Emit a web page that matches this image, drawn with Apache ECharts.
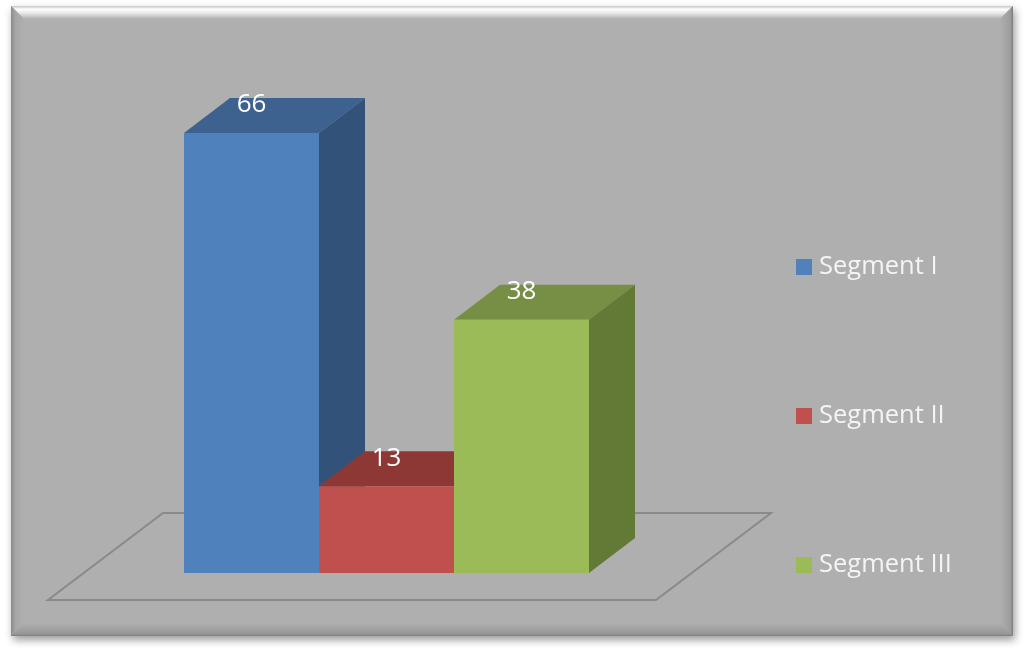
<!DOCTYPE html>
<html><head><meta charset="utf-8">
<style>html,body{margin:0;padding:0;background:#fff}#c{width:1024px;height:653px}</style>
<script src="https://cdn.jsdelivr.net/npm/echarts@6/dist/echarts.min.js"></script>
</head><body><div id="c"></div>
<script>
const categories = ['Segment I', 'Segment II', 'Segment III'];
const values = [66, 13, 38];
const frontColors = ['#4f81bd', '#c0504d', '#9bbb59'];
const topColors = ['#3d6290', '#8e3835', '#778f45'];
const sideColors = ['#325279', '#7a2f2d', '#637a37'];

const depthX = 46, depthY = -35;
const font = '"Open Sans", sans-serif';

function renderBar(params, api) {
  const i = api.value(0), v = api.value(1);
  const w = api.size([1, 0])[0];
  const top = api.coord([i, v]), base = api.coord([i, 0]);
  const l = top[0] - w / 2, r = top[0] + w / 2, t = top[1], b = base[1];
  const c = params.seriesIndex;
  return {
    type: 'group',
    children: [
      { type: 'polygon', shape: { points: [[l, t], [r, t], [r + depthX, t + depthY], [l + depthX, t + depthY]] }, style: { fill: topColors[c] } },
      { type: 'polygon', shape: { points: [[r, t], [r + depthX, t + depthY], [r + depthX, b + depthY], [r, b]] }, style: { fill: sideColors[c] } },
      { type: 'rect', shape: { x: l, y: t, width: w, height: b - t }, style: { fill: frontColors[c] } },
      { type: 'text', x: top[0], y: t - 28, style: { text: String(v), fill: '#fff', font: '26px ' + font, align: 'center', verticalAlign: 'middle' } }
    ]
  };
}

const L = 11, T = 6, R = 1013, B = 636;
function bevel(points, x, y, x2, y2, stops) {
  return { type: 'polygon', z: 1, shape: { points }, style: { fill: { type: 'linear', x, y, x2, y2, colorStops: stops } } };
}
const graphic = [
  { type: 'rect', z: 0, shape: { x: L, y: T, width: R - L, height: B - T }, style: { fill: '#afafaf', shadowBlur: 8, shadowOffsetX: 2, shadowOffsetY: 4, shadowColor: 'rgba(0,0,0,0.4)' } },
  bevel([[L, T], [R, T], [R - 13, T + 13], [L + 13, T + 13]], 0, 0, 0, 1, [{ offset: 0, color: '#c4c4c4' }, { offset: 0.25, color: '#ffffff' }, { offset: 0.6, color: '#e2e2e2' }, { offset: 1, color: '#afafaf' }]),
  bevel([[L, T], [L + 13, T + 13], [L + 13, B - 13], [L, B]], 0, 0, 1, 0, [{ offset: 0, color: '#8c8c8c' }, { offset: 0.35, color: '#a6a6a6' }, { offset: 1, color: '#afafaf' }]),
  bevel([[L, B], [L + 13, B - 13], [R - 13, B - 13], [R, B]], 0, 1, 0, 0, [{ offset: 0, color: '#7c7c7c' }, { offset: 0.15, color: '#969696' }, { offset: 1, color: '#afafaf' }]),
  bevel([[R, T], [R, B], [R - 13, B - 13], [R - 13, T + 13]], 1, 0, 0, 0, [{ offset: 0, color: '#7c7c7c' }, { offset: 0.2, color: '#9c9c9c' }, { offset: 1, color: '#afafaf' }]),
  { type: 'polygon', z: 2, shape: { points: [[48, 600], [656, 600], [771, 513], [163, 513]] }, style: { fill: 'transparent', stroke: '#8a8a8a', lineWidth: 2 } }
];

const chart = echarts.init(document.getElementById('c'));
chart.setOption({
  backgroundColor: '#fff',
  animation: false,
  graphic,
  grid: { left: 184, top: 133, width: 405, height: 440 },
  xAxis: { type: 'category', data: categories, show: false },
  yAxis: { type: 'value', min: 0, max: 66, show: false },
  legend: {
    orient: 'vertical', left: 796, top: 254, padding: 0, itemWidth: 16, itemHeight: 16, itemGap: 123,
    data: categories, icon: 'rect',
    textStyle: { color: '#f4f4f4', fontFamily: '"Open Sans", sans-serif', fontSize: 25.5, lineHeight: 16, padding: [0, 0, 0, 2] }
  },
  series: categories.map((name, i) => ({
    type: 'custom', name, z: 5 + i, clip: false,
    coordinateSystem: 'cartesian2d',
    itemStyle: { color: frontColors[i] },
    encode: { x: 0, y: 1 },
    data: [[i, values[i]]],
    renderItem: renderBar
  }))
});
</script></body></html>
